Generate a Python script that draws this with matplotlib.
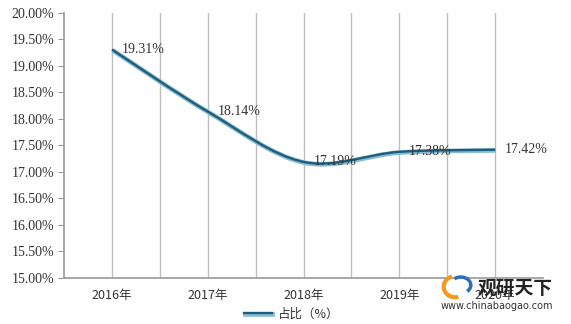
import matplotlib
matplotlib.use("Agg")
import matplotlib.pyplot as plt
import matplotlib.patheffects as pe
from matplotlib.path import Path
from matplotlib.patches import PathPatch, Arc
from matplotlib.lines import Line2D

years = ["2016年", "2017年", "2018年", "2019年", "2020年"]
share = [19.31, 18.14, 17.19, 17.38, 17.42]
labels = ["19.31%", "18.14%", "17.19%", "17.38%", "17.42%"]
yticks = [15.0, 15.5, 16.0, 16.5, 17.0, 17.5, 18.0, 18.5, 19.0, 19.5, 20.0]

serif = ["Liberation Serif", "DejaVu Serif"]
cjk = ["Noto Sans CJK SC", "DejaVu Sans"]

fig = plt.figure(figsize=(5.71, 3.24), dpi=100)
ax = fig.add_axes([0.1121, 0.142, 0.839, 0.818])

xs = list(range(len(share)))

# vertical grid every half category
for k in range(1, 2 * len(share)):
    ax.axvline(-0.5 + k * 0.5, color="#BFBFBF", lw=1.0, zorder=0)

# smoothed line (bezier through the points)
pts = list(zip(xs, share))
verts = [pts[0]]
codes = [Path.MOVETO]
n = len(pts)
for i in range(n - 1):
    p0 = pts[max(i - 1, 0)]
    p1 = pts[i]
    p2 = pts[i + 1]
    p3 = pts[min(i + 2, n - 1)]
    c1 = (p1[0] + (p2[0] - p0[0]) / 6, p1[1] + (p2[1] - p0[1]) / 6)
    c2 = (p2[0] - (p3[0] - p1[0]) / 6, p2[1] - (p3[1] - p1[1]) / 6)
    verts += [c1, c2, p2]
    codes += [Path.CURVE4] * 3
line_fx = [pe.Stroke(linewidth=3.4, foreground="#8DBBD1", offset=(0.5, -0.5)), pe.Normal()]
patch = PathPatch(Path(verts, codes), fill=False, edgecolor="#1C5F7D", lw=1.7, zorder=3,
                  path_effects=line_fx)
ax.add_patch(patch)

for x, y, t in zip(xs, share, labels):
    ax.annotate(t, (x, y), xytext=(7, 0), textcoords="offset points", va="center", ha="left",
                fontsize=10, family=serif, color="#333333", zorder=4)

ax.set_xlim(-0.5, 4.5)
ax.set_ylim(15, 20)
ax.set_yticks(yticks)
ax.set_yticklabels(["%.2f%%" % v for v in yticks], family=serif, fontsize=10, color="#333333")
ax.set_xticks(xs)
ax.set_xticklabels(years, family=cjk, fontsize=9, color="#333333")
ax.tick_params(axis="x", length=0, pad=8)
ax.tick_params(axis="y", length=4, color="#999999", pad=3)
for s in ["top", "right"]:
    ax.spines[s].set_visible(False)
for s in ["left", "bottom"]:
    ax.spines[s].set_color("#999999")
    ax.spines[s].set_linewidth(1.2)

# legend
leg_line = Line2D([0], [0], color="#1C5F7D", lw=1.7, path_effects=line_fx)
leg = fig.legend([leg_line], ["占比（%）"], loc="center", bbox_to_anchor=(0.51, 0.03),
                 frameon=False, prop={"family": cjk, "size": 9}, handlelength=2.2, handletextpad=0.4)
for t in leg.get_texts():
    t.set_color("#333333")

# watermark
fig.text(0.836, 0.11, "观研天下", family=cjk, fontsize=13.5, fontweight="bold", color="#222222",
         ha="left", va="center")
fig.text(0.87, 0.055, "www.chinabaogao.com", family=["DejaVu Sans"], fontsize=7, color="#333333",
         ha="center", va="center")
fig.patches.append(Arc((0.797, 0.115), 0.04, 0.065, theta1=100, theta2=280, color="#F39A1E", lw=3,
                       transform=fig.transFigure))
fig.patches.append(Arc((0.807, 0.12), 0.035, 0.05, theta1=-60, theta2=120, color="#2C6FB5", lw=2.5,
                       transform=fig.transFigure))

fig.savefig("out.png", dpi=100)
